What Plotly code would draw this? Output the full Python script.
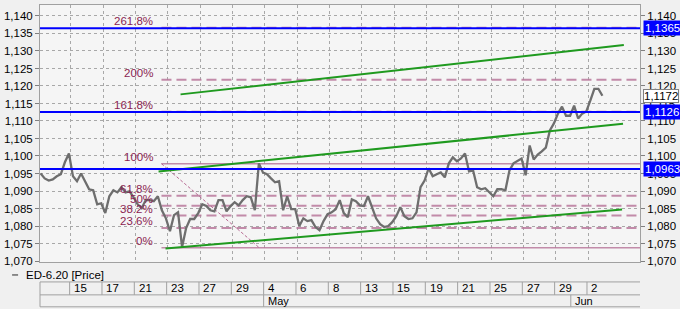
import plotly.graph_objects as go

# ---------------- data ----------------
# trading days, index 0 = 13 Apr
day_labels = ["13", "14", "15", "16", "17", "20", "21", "22", "23", "24", "27", "28", "29", "30",
              "4", "5", "6", "7", "8", "12", "13", "14", "15", "18", "19", "20", "21", "22",
              "25", "26", "27", "28", "29", "1", "2"]
tick_days = list(range(2, 35, 2))          # labelled days (every second trading day)
month_labels = ["May", "Jun"]
month_starts = [14, 33]

bars_per_day = 4
price = [
    1.0950, 1.0936, 1.0930, 1.0933, 1.0942, 1.0948, 1.0982, 1.1007, 1.0942, 1.0928,
    1.0950, 1.0925, 1.0905, 1.0902, 1.0862, 1.0865, 1.0837, 1.0885, 1.0902, 1.0896,
    1.0911, 1.0896, 1.0899, 1.0882, 1.0862, 1.0851, 1.0874, 1.0874, 1.0871, 1.0885,
    1.0845, 1.0822, 1.0785, 1.0831, 1.0839, 1.0740, 1.0794, 1.0820, 1.0820, 1.0837,
    1.0862, 1.0857, 1.0845, 1.0842, 1.0874, 1.0874, 1.0842, 1.0857, 1.0868, 1.0859,
    1.0874, 1.0885, 1.0882, 1.0845, 1.0979, 1.0953, 1.0948, 1.0936, 1.0925, 1.0928,
    1.0845, 1.0885, 1.0848, 1.0848, 1.0800, 1.0822, 1.0814, 1.0817, 1.0797, 1.0788,
    1.0814, 1.0834, 1.0839, 1.0848, 1.0874, 1.0837, 1.0825, 1.0876, 1.0871, 1.0859,
    1.0857, 1.0885, 1.0851, 1.0822, 1.0805, 1.0797, 1.0800, 1.0811, 1.0828, 1.0854,
    1.0828, 1.0820, 1.0822, 1.0839, 1.0911, 1.0930, 1.0965, 1.0942, 1.0948, 1.0953,
    1.0939, 1.0979, 1.0996, 1.0985, 1.0993, 1.1007, 1.0956, 1.0959, 1.0911, 1.0905,
    1.0908, 1.0896, 1.0885, 1.0905, 1.0905, 1.0902, 1.0959, 1.0979, 1.0985, 1.0993,
    1.0945, 1.1030, 1.0990, 1.1004, 1.1013, 1.1024, 1.1073, 1.1093, 1.1121, 1.1141,
    1.1115, 1.1115, 1.1144, 1.1107, 1.1121, 1.1127, 1.1158, 1.1192, 1.1192, 1.1172,
]
bar_x = [(k + 0.5) / bars_per_day for k in range(len(price))]

fib_low = 1.0738
fib_high = 1.0978
fib_levels = [0, 23.6, 38.2, 50, 61.8, 100, 161.8, 200, 261.8]
fib_labels = ["0%", "23.6%", "38.2%", "50%", "61.8%", "100%", "161.8%", "200%", "261.8%"]
fib_start_day = 7.6
fib_diag_x = [7.6, 13.65]
fib_diag_y = [1.0978, 1.0738]

blue_levels = [1.1365, 1.1126, 1.0963]
blue_labels = ["1,1365", "1,1126", "1,0963"]
last_price = 1.1172
last_label = "1,1172"

channel_upper_x = [8.78, 36.2]
channel_upper_y = [1.1176, 1.1317]
channel_mid_x = [7.42, 36.15]
channel_mid_y = [1.0956, 1.1092]
channel_low_x = [7.85, 36.09]
channel_low_y = [1.0736, 1.0847]

y_ticks = [1.070 + 0.005 * i for i in range(15)]
y_ticktext = [("%.3f" % v).replace(".", ",") for v in y_ticks]

x_range = [0.086, 37.2]
y_range = [1.06972, 1.14313]

# ---------------- styles ----------------
FONT = "Liberation Sans, Arial, sans-serif"
FIB_LINE = "rgba(185,120,155,0.85)"
FIB_TEXT = "#8b1f52"
GREEN = "#1f9a1f"
BLUE = "#0000ff"
GRID = "#a8a8a8"
TABLE_LINE = "#a0a0a0"

fig = go.Figure()

# blue horizontal lines
for v in blue_levels:
    fig.add_hline(y=v, line=dict(color=BLUE, width=2), layer="above")

# fibonacci levels
for lv in fib_levels:
    yv = fib_low + (fib_high - fib_low) * lv / 100.0
    solid = lv in (0, 100)
    fig.add_trace(go.Scatter(
        x=[fib_start_day, x_range[1]], y=[yv, yv], mode="lines",
        line=dict(color=FIB_LINE, width=1.6 if solid else 2, dash="solid" if solid else "10px,5px"),
        hoverinfo="skip", showlegend=False))
fig.add_trace(go.Scatter(x=fib_diag_x, y=fib_diag_y, mode="lines",
                         line=dict(color="rgba(175,90,135,0.9)", width=1, dash="3px,2px"),
                         hoverinfo="skip", showlegend=False))

# price
fig.add_trace(go.Scatter(x=bar_x, y=price, mode="lines",
                         line=dict(color="#6e6e6e", width=2.3),
                         name="ED-6.20 [Price]", showlegend=False))

# channel lines
for cx, cy in [(channel_upper_x, channel_upper_y), (channel_mid_x, channel_mid_y),
               (channel_low_x, channel_low_y)]:
    fig.add_trace(go.Scatter(x=cx, y=cy, mode="lines", line=dict(color=GREEN, width=2),
                             hoverinfo="skip", showlegend=False))

# invisible trace for the right axis
fig.add_trace(go.Scatter(x=[x_range[0]], y=[y_range[0]], yaxis="y2", mode="markers",
                         marker=dict(opacity=0), hoverinfo="skip", showlegend=False))

# fib labels
for lv, lab in zip(fib_levels, fib_labels):
    yv = fib_low + (fib_high - fib_low) * lv / 100.0
    fig.add_annotation(x=7.2, y=yv, xref="x", yref="y", text=lab, showarrow=False,
                       xanchor="right", yanchor="middle", yshift=7,
                       font=dict(family=FONT, size=11.5, color=FIB_TEXT))

# value boxes on right axis
for v, lab in zip(blue_levels, blue_labels):
    fig.add_annotation(x=1.005, y=v, xref="paper", yref="y", text=lab, showarrow=False,
                       xanchor="left", yanchor="middle", bgcolor=BLUE, borderpad=1,
                       font=dict(family=FONT, size=11.5, color="white"))
fig.add_annotation(x=1.005, y=last_price, xref="paper", yref="y", text=last_label,
                   showarrow=False, xanchor="left", yanchor="middle", bgcolor="white",
                   bordercolor="#808080", borderwidth=1, borderpad=0,
                   font=dict(family=FONT, size=11.5, color="black"))

# ---------------- bottom date table ----------------
def py(px):
    return (262 - px) / 258.0

row_top, row_mid, row_bot = py(282), py(295), py(307)
for yy in (row_top, row_mid, row_bot):
    fig.add_shape(type="line", xref="paper", yref="paper", x0=0, x1=1, y0=yy, y1=yy,
                  line=dict(color=TABLE_LINE, width=1))
fig.add_shape(type="line", xref="paper", yref="paper", x0=0, x1=0, y0=row_top, y1=row_bot,
              line=dict(color=TABLE_LINE, width=1))
for d in tick_days:
    fig.add_shape(type="line", xref="x", yref="paper", x0=d - 0.08, x1=d - 0.08,
                  y0=row_top, y1=row_mid, line=dict(color=TABLE_LINE, width=1))
    fig.add_annotation(x=d, y=(row_top + row_mid) / 2, xref="x", yref="paper",
                       text=day_labels[d], showarrow=False, xanchor="left", yanchor="middle",
                       xshift=1, font=dict(family=FONT, size=11.5, color="black"))
for m, d in zip(month_labels, month_starts):
    fig.add_shape(type="line", xref="x", yref="paper", x0=d - 0.08, x1=d - 0.08,
                  y0=row_mid, y1=row_bot, line=dict(color=TABLE_LINE, width=1))
    fig.add_annotation(x=d, y=(row_mid + row_bot) / 2, xref="x", yref="paper",
                       text=m, showarrow=False, xanchor="left", yanchor="middle",
                       xshift=1, font=dict(family=FONT, size=11, color="black"))

# legend-like caption
fig.add_shape(type="line", xref="paper", yref="paper", x0=(10 - 38) / 602.0, x1=(16 - 38) / 602.0,
              y0=py(275), y1=py(275), line=dict(color="#6b6b6b", width=1.5))
fig.add_annotation(x=(22 - 38) / 602.0, y=py(275), xref="paper", yref="paper",
                   text="ED-6.20 [Price]", showarrow=False, xanchor="left", yanchor="middle",
                   font=dict(family=FONT, size=11.5, color="black"))

axis_common = dict(
    range=y_range, tickvals=y_ticks, ticktext=y_ticktext, ticks="outside", ticklen=4,
    tickcolor="#808080", tickfont=dict(family=FONT, size=11.5, color="black"),
    showgrid=True, gridcolor=GRID, griddash="dot", gridwidth=1, zeroline=False,
    showline=True, linecolor=TABLE_LINE, linewidth=1,
)

fig.update_layout(
    width=680, height=309,
    margin=dict(l=38, r=40, t=4, b=47),
    paper_bgcolor="#f0f0f0", plot_bgcolor="#f5f5f5",
    showlegend=False,
    xaxis=dict(range=x_range, tickvals=tick_days, showticklabels=False, ticks="",
               showgrid=True, gridcolor=GRID, griddash="dot", gridwidth=1, zeroline=False,
               showline=True, linecolor=TABLE_LINE, mirror=True),
    yaxis=dict(side="left", **axis_common),
    yaxis2=dict(side="right", overlaying="y", **axis_common),
)

fig.write_html("out.html")
